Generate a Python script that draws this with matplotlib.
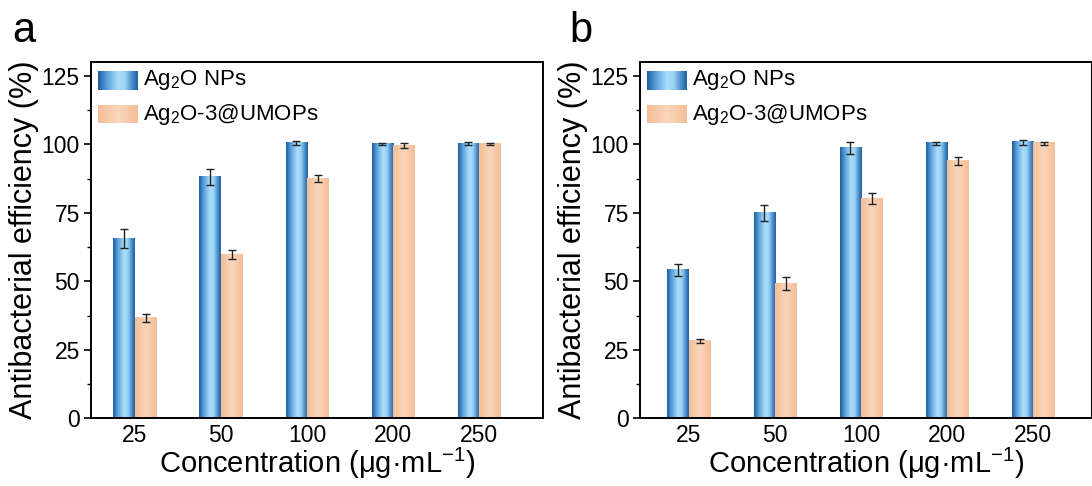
import numpy as np
import matplotlib
matplotlib.use("Agg")
import matplotlib.pyplot as plt
from matplotlib.colors import LinearSegmentedColormap

plt.rcParams['font.family'] = ['Liberation Sans', 'DejaVu Sans']
plt.rcParams['mathtext.fontset'] = 'custom'
plt.rcParams['mathtext.rm'] = 'Liberation Sans'
plt.rcParams['mathtext.it'] = 'Liberation Sans:italic'

# data
concentrations = ["25", "50", "100", "200", "250"]

a_nps = [65.5, 88.0, 100.4, 100.2, 100.2]
a_nps_err = [3.5, 2.9, 0.8, 0.3, 0.5]
a_umops = [36.6, 59.8, 87.5, 99.5, 100.1]
a_umops_err = [1.5, 1.6, 1.2, 1.0, 0.3]

b_nps = [54.3, 74.9, 98.6, 100.4, 100.7]
b_nps_err = [2.2, 3.0, 2.1, 0.6, 1.0]
b_umops = [28.2, 49.2, 80.2, 93.9, 100.4]
b_umops_err = [0.7, 2.3, 1.9, 1.6, 0.6]

blue_cmap = LinearSegmentedColormap.from_list(
    "blue", [(0, "#1d5c9f"), (0.22, "#5a9fdb"), (0.5, "#a9def9"),
             (0.68, "#98d2f4"), (0.86, "#4a8bcb"), (1, "#1e5e9f")])
orange_cmap = LinearSegmentedColormap.from_list(
    "orange", [(0, "#f4bd96"), (0.5, "#fad6bb"), (1, "#f4be98")])
grad = np.linspace(0, 1, 256).reshape(1, -1)

W = 0.25


def gradient_bars(ax, x, h, err, cmap):
    for xi, hi in zip(x, h):
        ax.imshow(grad, cmap=cmap, extent=(xi - W / 2, xi + W / 2, 0, hi),
                  aspect='auto', zorder=2, interpolation='bilinear')
    ax.errorbar(x, h, yerr=err, fmt='none', ecolor='#222222', elinewidth=1.0,
                capsize=3, capthick=1.0, zorder=3)


def legend_patch(ax, x0, x1, y0, y1, cmap, label):
    ax.imshow(grad, cmap=cmap, extent=(x0, x1, y0, y1), transform=ax.transAxes,
              aspect='auto', zorder=4, interpolation='bilinear')
    ax.text(x1 + 0.013, (y0 + y1) / 2, label, transform=ax.transAxes,
            fontsize=16, va='center', ha='left', zorder=5)


def panel(ax, nps, nps_err, umops, umops_err, xlim, letter, letter_x):
    x = np.arange(1, len(concentrations) + 1)
    gradient_bars(ax, x - W / 2, nps, nps_err, blue_cmap)
    gradient_bars(ax, x + W / 2, umops, umops_err, orange_cmap)
    ax.set_xlim(*xlim)
    ax.set_ylim(0, 130)
    ax.set_xticks(x)
    ax.set_xticklabels(concentrations)
    ax.set_yticks([0, 25, 50, 75, 100, 125])
    ax.set_yticks(np.arange(12.5, 130, 25), minor=True)
    ax.tick_params(axis='x', length=0, labelsize=16.5, pad=4)
    ax.tick_params(axis='y', which='major', length=5, width=1.2,
                   labelsize=16.5, direction='out', pad=3)
    ax.tick_params(axis='y', which='minor', length=3, width=1.0, direction='out')
    for s in ax.spines.values():
        s.set_linewidth(1.4)
    ax.set_ylabel("Antibacterial efficiency (%)", fontsize=22, labelpad=2)
    ax.set_xlabel("Concentration (μg·mL$^{-1}$)", fontsize=21, labelpad=-1)
    legend_patch(ax, 0.0155, 0.102, 0.922, 0.975, blue_cmap, r"Ag$_2$O NPs")
    legend_patch(ax, 0.0155, 0.102, 0.828, 0.878, orange_cmap,
                 r"Ag$_2$O-3@UMOPs")
    ax.text(letter_x, 1.03, letter, transform=ax.transAxes, fontsize=30,
            va='bottom', ha='left')


fig = plt.figure(figsize=(10.92, 4.86), dpi=100)
ax1 = fig.add_axes([0.0833, 0.139, 0.4139, 0.7334])
ax2 = fig.add_axes([0.586, 0.139, 0.4139, 0.7334])

panel(ax1, a_nps, a_nps_err, a_umops, a_umops_err, (0.49, 5.74), "a", -0.175)
panel(ax2, b_nps, b_nps_err, b_umops, b_umops_err, (0.43, 5.68), "b", -0.155)

fig.savefig("out.png", dpi=100, facecolor='white')
